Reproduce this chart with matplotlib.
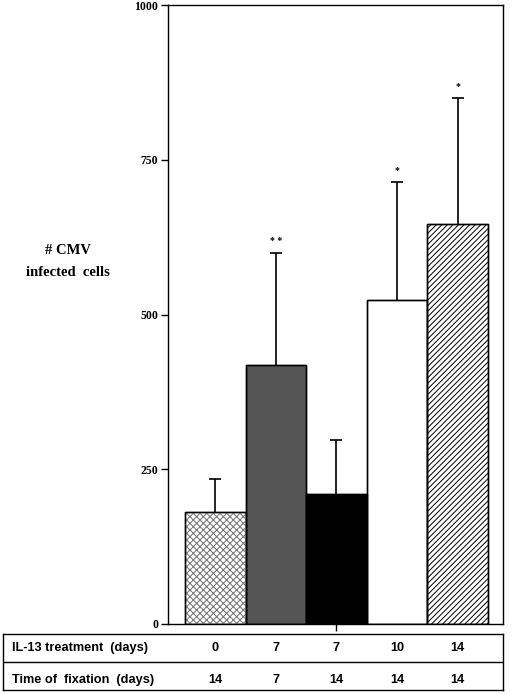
import matplotlib
matplotlib.use('Agg')
import matplotlib.pyplot as plt
import matplotlib.transforms as mtransforms
import numpy as np

# data
means = [181, 418, 210, 524, 647]
err_up = [53, 182, 88, 190, 203]
stars = ['', '* *', '', '*', '*']
treatment_days = ['0', '7', '7', '10', '14']
fixation_days = ['14', '7', '14', '14', '14']
yticks = [0, 250, 500, 750, 1000]

fills = ['white', '#555555', 'black', 'white', 'white']
hatches = ['xxxxx', None, None, None, '//////']
hatch_colors = ['#707070', None, None, None, 'black']

plt.rcParams['hatch.linewidth'] = 0.7

fig = plt.figure(figsize=(5.2, 6.94), dpi=100)
W, H = 520, 694

ax = fig.add_axes([168 / W, 1 - 624 / H, (503 - 168) / W, (624 - 5) / H])
x = np.arange(len(means))
ax.bar(x, means, width=1.0, color=fills, edgecolor='black', linewidth=1.0, zorder=2)
# hatch layers drawn separately so the hatch colour can differ from the outline
for xi, m, h, hc in zip(x, means, hatches, hatch_colors):
    if h:
        ax.bar(xi, m, width=1.0, color='none', edgecolor=hc, hatch=h, linewidth=0, zorder=3)
ax.bar(x, means, width=1.0, color='none', edgecolor='black', linewidth=1.0, zorder=4)

eb = ax.errorbar(x, means, yerr=[np.zeros(len(means)), err_up], fmt='none',
                 ecolor='black', elinewidth=1.2, capsize=4, capthick=1.2, zorder=1)
eb[1][0].set_visible(False)  # no cap at the bar top

for xi, m, e, s in zip(x, means, err_up, stars):
    if s:
        ax.annotate(s, (xi, m + e), xytext=(0, 5), textcoords='offset points',
                    ha='center', va='bottom', fontsize=7, fontweight='bold',
                    family='Liberation Serif')

ax.set_xlim(-0.78, 4.75)
ax.set_ylim(0, 1000)
ax.set_yticks(yticks)
ax.set_yticklabels([str(t) for t in yticks], fontsize=8.5, fontweight='bold',
                   family='Liberation Serif')
ax.set_xticks([2])
ax.set_xticklabels([''])
ax.tick_params(axis='both', direction='out', length=5, width=1, pad=2)
for sp in ax.spines.values():
    sp.set_linewidth(1.0)

fig.text(68 / W, 1 - 250 / H, '# CMV', ha='center', va='center', fontsize=10.5,
         fontweight='bold', family='Liberation Serif')
fig.text(68 / W, 1 - 273 / H, 'infected  cells', ha='center', va='center', fontsize=10.5,
         fontweight='bold', family='Liberation Serif')

# table under the chart
tax = fig.add_axes([3 / W, 1 - 690 / H, (503 - 3) / W, (690 - 634) / H])
tax.set_xticks([])
tax.set_yticks([])
tax.set_xlim(0, 1)
tax.set_ylim(0, 1)
tax.axhline(0.5, color='black', linewidth=1.0)
for sp in tax.spines.values():
    sp.set_linewidth(1.0)

trans = mtransforms.blended_transform_factory(ax.transData, tax.transAxes)
row_font = dict(fontsize=9.2, fontweight='bold', family='Liberation Sans', va='center')
tax.text(9 / 500, 0.75, 'IL-13 treatment  (days)', ha='left', **row_font)
tax.text(9 / 500, 0.18, 'Time of  fixation  (days)', ha='left', **row_font)
for xi, a, b in zip(x, treatment_days, fixation_days):
    tax.text(xi, 0.75, a, ha='center', transform=trans, **row_font)
    tax.text(xi, 0.18, b, ha='center', transform=trans, **row_font)

fig.savefig('out.png', dpi=100)
